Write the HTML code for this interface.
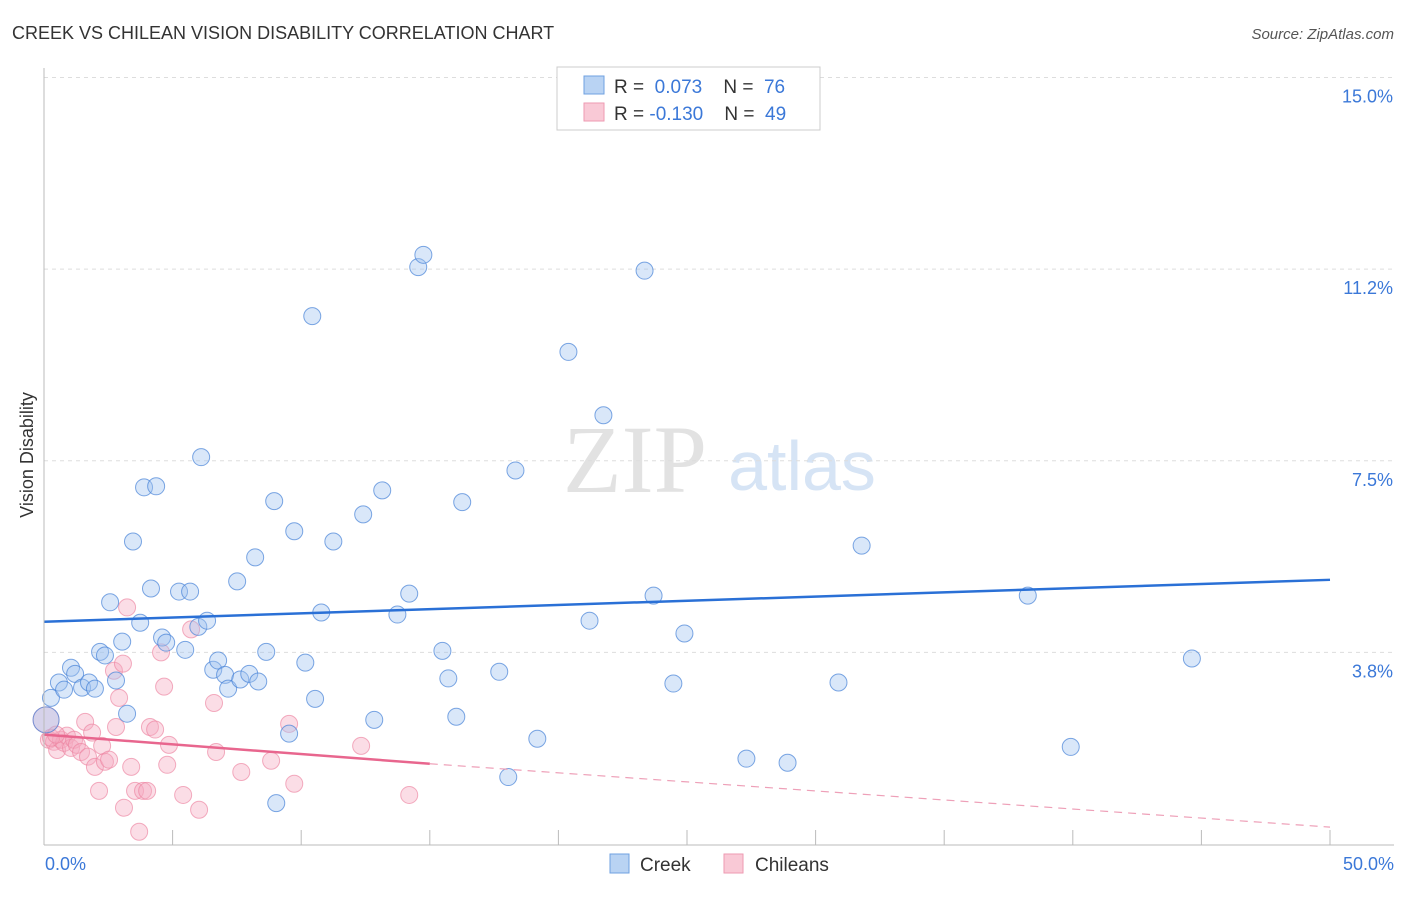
<!DOCTYPE html>
<html><head><meta charset="utf-8"><style>
body{margin:0;background:#fff;font-family:"Liberation Sans",sans-serif}
svg text{font-family:"Liberation Sans",sans-serif}
svg text.serif{font-family:"Liberation Serif",serif}
</style></head><body>
<svg width="1406" height="892" id="c">
<text x="12" y="39" font-size="18" fill="#333">CREEK VS CHILEAN VISION DISABILITY CORRELATION CHART</text>
<text x="1394" y="39" font-size="15" fill="#555" font-style="italic" text-anchor="end">Source: ZipAtlas.com</text>
<text class="serif" x="635" y="492" font-size="96" fill="#e2e2e2" text-anchor="middle">ZIP</text>
<text x="802" y="490" font-size="70" fill="#d6e4f5" text-anchor="middle">atlas</text>
<text transform="translate(33,455) rotate(-90)" font-size="18" fill="#333" text-anchor="middle">Vision Disability</text>
<g id="grid"></g><g id="pts"></g><g id="trend"></g>
<line x1="44" y1="68" x2="44" y2="845" stroke="#bbb"/>
<line x1="44" y1="845" x2="1394" y2="845" stroke="#bbb"/>
<text x="45" y="870" font-size="18" fill="#3b78d8">0.0%</text>
<text x="1394" y="870" font-size="18" fill="#3b78d8" text-anchor="end">50.0%</text>
<g>
<rect x="557" y="67" width="263" height="63" fill="#fff" stroke="#ccc"/>
<rect x="584" y="76" width="20" height="18" fill="#b9d3f3" stroke="#6fa0e0"/>
<rect x="584" y="103" width="20" height="18" fill="#f9c9d6" stroke="#ee9ab2"/>
<text x="614" y="93" font-size="19" fill="#333">R = <tspan fill="#3b78d8">&#160;0.073</tspan>&#160;&#160;&#160;&#160;N = <tspan fill="#3b78d8">&#160;76</tspan></text>
<text x="614" y="120" font-size="19" fill="#333">R = <tspan fill="#3b78d8">-0.130</tspan>&#160;&#160;&#160;&#160;N = <tspan fill="#3b78d8">&#160;49</tspan></text>
</g>
<g>
<rect x="610" y="854" width="19" height="19" fill="#b9d3f3" stroke="#6fa0e0"/>
<text x="640" y="871" font-size="19" fill="#333">Creek</text>
<rect x="724" y="854" width="19" height="19" fill="#f9c9d6" stroke="#ee9ab2"/>
<text x="755" y="871" font-size="19" fill="#333">Chileans</text>
</g>
</svg>
<script>
const yTicks=[3.75,7.5,11.25,15];
const yTickLabels=["3.8%","7.5%","11.2%","15.0%"];
const creekX=[0.27,0.58,0.78,1.05,1.21,1.48,1.75,1.98,2.18,2.37,2.57,2.8,3.04,3.23,3.46,3.74,3.89,4.16,4.36,4.59,4.75,5.25,5.49,5.68,6.0,6.11,6.34,6.58,6.77,7.04,7.16,7.51,7.63,7.98,8.21,8.33,8.64,8.95,9.03,9.53,9.73,10.16,10.54,10.43,10.78,11.25,12.41,12.84,13.15,13.74,14.2,14.55,14.75,15.49,15.72,16.03,16.26,17.7,18.05,18.33,19.18,20.39,21.21,21.75,23.35,23.7,24.47,24.9,27.31,28.91,30.89,31.79,38.25,39.92,44.63,0.08];
const creekY=[2.86,3.16,3.02,3.45,3.33,3.06,3.16,3.04,3.76,3.69,4.73,3.2,3.96,2.55,5.92,4.33,6.98,5.0,7.0,4.04,3.94,4.94,3.8,4.94,4.25,7.57,4.37,3.41,3.59,3.31,3.04,5.14,3.22,3.33,5.61,3.18,3.76,6.71,0.8,2.16,6.12,3.55,2.84,10.33,4.53,5.92,6.45,2.43,6.92,4.49,4.9,11.29,11.53,3.78,3.24,2.49,6.69,3.37,1.31,7.31,2.06,9.63,4.37,8.39,11.22,4.86,3.14,4.12,1.67,1.59,3.16,5.84,4.86,1.9,3.63,2.43];
const chileX=[0.08,0.19,0.39,0.51,0.66,0.78,0.89,1.05,1.17,1.28,1.44,1.6,1.71,1.87,1.98,2.14,2.26,2.37,2.53,2.72,2.8,2.92,3.07,3.11,3.23,3.39,3.54,3.7,3.85,4.01,4.12,4.32,4.55,4.67,4.79,4.86,5.41,5.72,6.03,6.61,6.69,7.67,8.83,9.53,9.73,12.33,14.2,0.27,0.47];
const chileY=[2.43,2.04,2.0,1.84,2.04,1.98,2.12,1.88,2.04,1.94,1.8,2.39,1.71,2.18,1.51,1.04,1.92,1.61,1.65,3.39,2.29,2.86,3.53,0.71,4.63,1.51,1.04,0.24,1.04,1.04,2.29,2.24,3.75,3.08,1.55,1.94,0.96,4.2,0.67,2.76,1.8,1.41,1.63,2.35,1.18,1.92,0.96,2.08,2.14];
const creekTrend=[4.35,5.17];
const chileTrend=[2.14,1.57,0.33];
const X=v=>44+v*25.72, Y=v=>844-v*51.1;
const ns="http://www.w3.org/2000/svg";
function mk(t,a,p){const e=document.createElementNS(ns,t);for(const k in a)e.setAttribute(k,a[k]);p.appendChild(e);return e;}
const g=document.getElementById('grid');
yTicks.forEach((t,i)=>{
 const l=mk('line',{x1:44,x2:1394,y1:Y(t),y2:Y(t),stroke:'#ddd','stroke-dasharray':'4,4'},g);
 
 
 const tx=mk('text',{x:1393,y:Y(t)+25,'font-size':18,fill:'#3b78d8','text-anchor':'end'},g);
 tx.textContent=yTickLabels[i];
 
 
});
for(let i=1;i<=10;i++){
 const l=mk('line',{x1:X(i*5),x2:X(i*5),y1:830,y2:845,stroke:'#bbb'},g);
 
 
}
const p=document.getElementById('pts');
chileX.forEach((x,i)=>{
 const c=mk('circle',{cx:X(x),cy:Y(chileY[i]),r:i==0?13:8.5,fill:'rgba(246,170,192,0.4)',stroke:'rgba(236,130,160,0.65)'},p);
 
 
});
creekX.forEach((x,i)=>{
 const c=mk('circle',{cx:X(x),cy:Y(creekY[i]),r:i==75?13:8.5,fill:'rgba(160,195,240,0.4)',stroke:'rgba(70,130,215,0.7)'},p);
 
 
});
const tr=document.getElementById('trend');
let l=mk('line',{x1:X(0),y1:Y(creekTrend[0]),x2:X(50),y2:Y(creekTrend[1]),stroke:'#2a70d6','stroke-width':2.5},tr);


l=mk('line',{x1:X(0),y1:Y(chileTrend[0]),x2:X(15),y2:Y(chileTrend[1]),stroke:'#e8668e','stroke-width':2.5},tr);


l=mk('line',{x1:X(15),y1:Y(chileTrend[1]),x2:X(50),y2:Y(chileTrend[2]),stroke:'#eea0b8','stroke-width':1.2,'stroke-dasharray':'8,6'},tr);


</script>
</body></html>
